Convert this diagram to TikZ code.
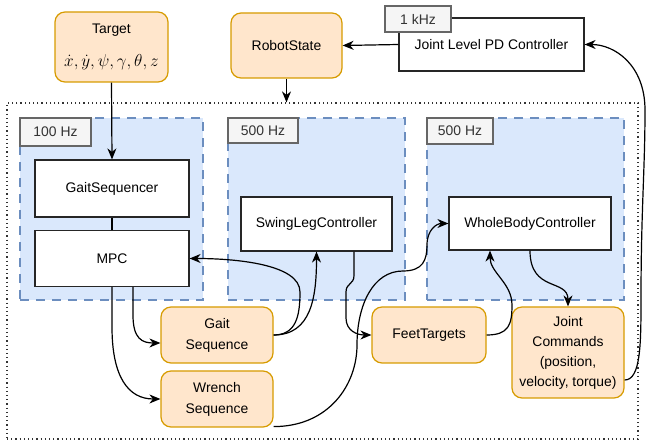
\documentclass[tikz,border=0pt]{standalone}
\usepackage{fontspec}
\setmainfont{Liberation Sans}
\usetikzlibrary{arrows.meta}
\definecolor{ofill}{HTML}{FFE6CC}
\definecolor{odraw}{HTML}{D79B00}
\definecolor{bfill}{HTML}{DAE8FC}
\definecolor{bdraw}{HTML}{6C8EBF}
\definecolor{tfill}{HTML}{F5F5F5}
\definecolor{tdraw}{HTML}{666666}
\definecolor{ttext}{HTML}{333333}
\tikzset{
  base/.style={inner sep=0pt, align=center, font=\fontsize{13.9}{21}\selectfont},
  orangebox/.style={base, draw=odraw, fill=ofill, line width=1.2pt, rounded corners=10pt},
  plainbox/.style={base, draw=black!85, fill=white, line width=1.2pt},
  groupbox/.style={draw=bdraw, fill=bfill, line width=1.2pt, dash pattern=on 9pt off 7pt, inner sep=0pt},
  tabbox/.style={base, draw=tdraw, fill=tfill, line width=1.2pt, text=ttext},
  outerbox/.style={draw=black!80, line width=1.2pt, dash pattern=on 1.2pt off 3pt, inner sep=0pt},
  arr/.style={draw=black, line width=1.2pt, -{Stealth[length=11pt,width=9pt,inset=3.5pt]}},
  conn/.style={draw=black, line width=1.2pt}
}
\begin{document}
\begin{tikzpicture}[x=1pt,y=-1pt]
\useasboundingbox (0,0) rectangle (649,443);
% outer dotted region
\node[outerbox, minimum width=631pt, minimum height=336pt] (outer) at (322.5,271) {};
% groups
\node[groupbox, minimum width=183pt, minimum height=182pt] (g1) at (111.5,209) {};
\node[groupbox, minimum width=177pt, minimum height=182pt] (g2) at (316.5,209) {};
\node[groupbox, minimum width=197pt, minimum height=182pt] (g3) at (525.5,209) {};
\node[tabbox, minimum width=71pt, minimum height=28pt] (tab1) at (55.5,132) {100 Hz};
\node[tabbox, minimum width=70pt, minimum height=25pt] (tab2) at (263,130.5) {500 Hz};
\node[tabbox, minimum width=66pt, minimum height=26pt] (tab3) at (460,131) {500 Hz};
% top nodes
\node[orangebox, minimum width=113pt, minimum height=70pt] (target) at (111.5,47)
  {Target\\[12pt]{\fontsize{16.8}{18}\selectfont$\dot{x},\dot{y},\psi,\gamma,\theta,z$}};
\node[orangebox, minimum width=111pt, minimum height=65pt] (robot) at (286.5,45.5) {RobotState};
\node[plainbox, minimum width=185pt, minimum height=53pt] (pd) at (491.5,44.5) {Joint Level PD Controller};
\node[tabbox, minimum width=66pt, minimum height=26pt] (tabpd) at (418,19) {1 kHz};
% inner nodes
\node[plainbox, minimum width=154pt, minimum height=57pt] (gaitseq) at (112,188.5) {GaitSequencer};
\node[plainbox, minimum width=154pt, minimum height=56pt] (mpc) at (112,258.5) {MPC};
\node[plainbox, minimum width=151pt, minimum height=54pt] (swing) at (316.5,224) {SwingLegController};
\node[plainbox, minimum width=162pt, minimum height=53pt] (wbc) at (530,223.5) {WholeBodyController};
\node[orangebox, minimum width=112pt, minimum height=56pt] (gs) at (217,335) {Gait\\Sequence};
\node[orangebox, minimum width=112pt, minimum height=56pt] (ws) at (217,399) {Wrench\\Sequence};
\node[orangebox, minimum width=114pt, minimum height=56pt] (feet) at (429,335) {FeetTargets};
\node[orangebox, minimum width=112pt, minimum height=91pt, font=\fontsize{13.9}{20}\selectfont] (jc) at (568,352.5)
  {Joint\\Commands\\(position,\\velocity, torque)};
% connectors
\draw[arr] (target.south) -- (gaitseq.north);
\draw[arr] (robot.south) -- (robot.south |- outer.north);
\draw[arr] (pd.west) -- (robot.east);
\draw[conn] (gaitseq.south) -- (mpc.north);
\draw[arr] ([xshift=21pt]mpc.south) -- ++(0,28) .. controls +(0,24) and +(-18,0) .. ([yshift=-8pt]gs.west);
\draw[arr] (mpc.south) -- ++(0,40) .. controls +(0,50) and +(-32,0) .. (ws.west);
\draw[arr] (gs.east) .. controls +(22,0) and +(0,25) .. (300,292) .. controls +(0,-28) and +(45,0) .. (mpc.east);
\draw[arr] (gs.east) .. controls +(38,0) and +(0,45) .. (swing.south);
\draw[arr] ([xshift=37.5pt]swing.south) -- ++(0,24) .. controls +(0,9) and +(0,-9) .. (346,292) -- (346,318) .. controls +(0,13) and +(-14,0) .. (feet.west);
\draw[arr] ([yshift=1pt]ws.south east) .. controls +(55,0) and +(0,40) .. (357,345) .. controls +(0,-40) and +(-30,0) .. (403,271) .. controls +(20,0) and +(0,15) .. (427,245) .. controls +(0,-15) and +(-12,0) .. (wbc.west);
\draw[arr] (feet.east) .. controls +(22,0) and +(0,20) .. (512,305) .. controls +(0,-22) and +(0,22) .. ([xshift=-40pt]wbc.south);
\draw[arr] (wbc.south) .. controls +(0,42) and +(0,-28) .. (jc.north);
\draw[arr] ([yshift=-27.5pt]jc.east) .. controls +(16,0) and +(0,45) .. (641,300) .. controls +(0,-90) and +(0,60) .. (645,110) .. controls +(0,-45) and +(30,0) .. (pd.east);
\end{tikzpicture}
\end{document}
